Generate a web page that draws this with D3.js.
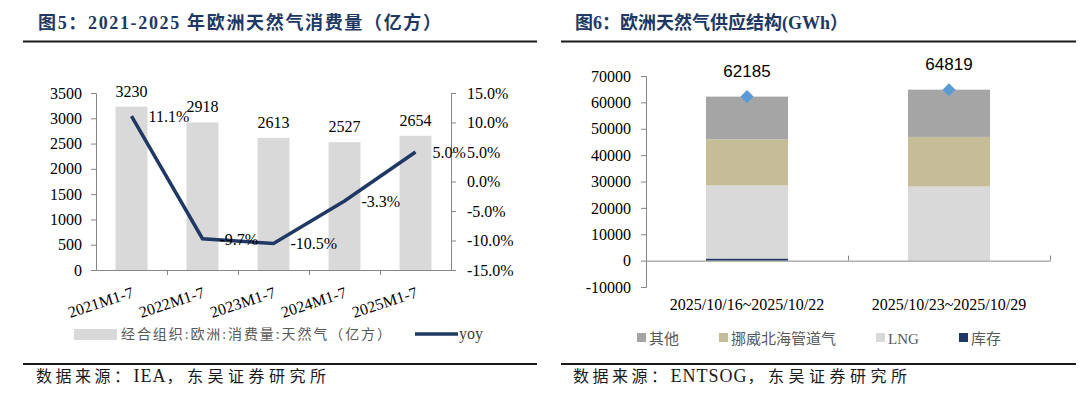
<!DOCTYPE html>
<html>
<head>
<meta charset="utf-8">
<script src="https://cdn.jsdelivr.net/npm/d3@7"></script>
<style>
  body { margin: 0; background: #fff; }
  svg { display: block; }
  .serif { font-family: "Liberation Serif", "Times New Roman", "Noto Sans CJK SC", serif; }
  .axis path, .axis line { stroke: #868686; }
  .axis text { font-family: "Liberation Serif", "Times New Roman", serif; font-size: 16px; fill: #000; }
</style>
</head>
<body>
<div id="chart"></div>
<script>
// left chart data
var years = ["2021M1-7", "2022M1-7", "2023M1-7", "2024M1-7", "2025M1-7"];
var consumption = [3230, 2918, 2613, 2527, 2654];
var yoy = [11.1, -9.7, -10.5, -3.3, 5.0];
var leftTicks = [0, 500, 1000, 1500, 2000, 2500, 3000, 3500];
var rightTicks = [-15, -10, -5, 0, 5, 10, 15];
// right chart data
var weeks = ["2025/10/16~2025/10/22", "2025/10/23~2025/10/29"];
var storage = [800, 0];
var lng = [27700, 28100];
var norway = [17500, 18800];
var other = [16185, 17919];
var totals = [62185, 64819];
var supplyTicks = [-10000, 0, 10000, 20000, 30000, 40000, 50000, 60000, 70000];
var seriesNames = ["其他", "挪威北海管道气", "LNG", "库存"];

var navy = "#203864";
// plain hyphen instead of the unicode minus d3 uses
var pct = d => d3.format(".1f")(d).replace("\u2212", "-") + "%";
var num = d => String(d);

var svg = d3.select("#chart").append("svg")
    .attr("width", 1080)
    .attr("height", 396);

// titles and rules
function header(x, text, len, rx1, rx2) {
    svg.append("text")
        .attr("class", "serif")
        .attr("x", x).attr("y", 29)
        .attr("font-size", 18).attr("font-weight", "bold")
        .attr("fill", navy)
        .attr("textLength", len).attr("lengthAdjust", "spacing")
        .text(text);
    svg.append("line").attr("x1", rx1).attr("x2", rx2).attr("y1", 41.5).attr("y2", 41.5)
        .attr("stroke", "#1a1a1a").attr("stroke-width", 2);
    svg.append("line").attr("x1", rx1).attr("x2", rx2).attr("y1", 364).attr("y2", 364)
        .attr("stroke", "#1a1a1a").attr("stroke-width", 2);
}
header(38, "图5：2021-2025 年欧洲天然气消费量（亿方）", 403, 23, 537);
header(575, "图6：欧洲天然气供应结构(GWh）", 273, 561, 1076);

function source(x, latin) {
    var t = svg.append("text").attr("class", "serif")
        .attr("x", x).attr("y", 382).attr("font-size", 16).attr("fill", "#1a1a1a");
    t.append("tspan").attr("letter-spacing", 3.5).text("数据来源：");
    t.append("tspan").attr("font-size", 18).attr("letter-spacing", 1).text(latin);
    t.append("tspan").attr("letter-spacing", 4.5).text("，东吴证券研究所");
}
source(36, "IEA");
source(573, "ENTSOG");

// ---------- left chart ----------
var x = d3.scaleBand()
    .domain(years)
    .range([96, 451])
    .paddingInner(0.55)
    .paddingOuter(0.275);
var xEdge = d3.scaleLinear().domain([0, years.length]).range([96, 451]);
var yL = d3.scaleLinear().domain([0, 3500]).range([270, 93]);
var yR = d3.scaleLinear().domain([-15, 15]).range([270, 93]);

var left = svg.append("g");

left.selectAll("rect.bar")
    .data(consumption)
    .enter().append("rect")
    .attr("class", "bar")
    .attr("x", (d, i) => x(years[i]))
    .attr("y", d => yL(d))
    .attr("width", x.bandwidth())
    .attr("height", d => yL(0) - yL(d))
    .attr("fill", "#d9d9d9");

left.append("g").attr("class", "axis")
    .attr("transform", "translate(96,0)")
    .call(d3.axisLeft(yL).tickValues(leftTicks).tickSize(5).tickPadding(9).tickFormat(num));
left.append("g").attr("class", "axis")
    .attr("transform", "translate(451,0)")
    .call(d3.axisRight(yR).tickValues(rightTicks).tickSize(5).tickPadding(11).tickFormat(pct));

// x axis: boundary ticks + rotated labels
left.append("g").attr("class", "axis")
    .attr("transform", "translate(0,270)")
    .call(d3.axisBottom(xEdge).tickValues([1, 2, 3, 4]).tickSize(5).tickSizeOuter(0).tickFormat(""));
var xAxis = left.append("g").attr("class", "axis")
    .attr("transform", "translate(0,270)")
    .call(d3.axisBottom(x).tickSize(0).tickSizeOuter(0));
xAxis.select(".domain").remove();
xAxis.selectAll("text")
    .attr("x", 0).attr("y", 0).attr("dy", 0)
    .attr("text-anchor", "end")
    .attr("transform", "translate(3,27) rotate(-18)");

left.selectAll("text.val")
    .data(consumption)
    .enter().append("text")
    .attr("class", "serif")
    .attr("x", (d, i) => x(years[i]) + x.bandwidth() / 2)
    .attr("y", d => yL(d) - 10)
    .attr("text-anchor", "middle")
    .attr("font-size", 16)
    .text(d => d);

var line = d3.line()
    .x((d, i) => x(years[i]) + x.bandwidth() / 2)
    .y(d => yR(d));
left.append("path")
    .datum(yoy)
    .attr("d", line)
    .attr("fill", "none")
    .attr("stroke", navy)
    .attr("stroke-width", 3.5);

left.selectAll("text.yoy")
    .data(yoy)
    .enter().append("text")
    .attr("class", "serif")
    .attr("x", (d, i) => x(years[i]) + x.bandwidth() / 2 + 17)
    .attr("y", d => yR(d) + 6)
    .attr("font-size", 16)
    .text(pct);

// left legend
left.append("rect").attr("x", 74).attr("y", 329).attr("width", 43).attr("height", 11).attr("fill", "#d9d9d9");
left.append("text").attr("class", "serif")
    .attr("x", 121).attr("y", 339).attr("font-size", 14).attr("fill", "#595959")
    .attr("textLength", 270).attr("lengthAdjust", "spacing")
    .text("经合组织:欧洲:消费量:天然气（亿方）");
left.append("line").attr("x1", 415).attr("x2", 458).attr("y1", 334).attr("y2", 334)
    .attr("stroke", navy).attr("stroke-width", 3.5);
left.append("text").attr("class", "serif")
    .attr("x", 459).attr("y", 339).attr("font-size", 16).attr("fill", "#404040")
    .text("yoy");

// ---------- right chart ----------
var xs = d3.scaleBand()
    .domain(weeks)
    .range([646, 1050])
    .paddingInner(0.594)
    .paddingOuter(0.297);
var ys = d3.scaleLinear().domain([-10000, 70000]).range([287, 76]);

var rows = weeks.map((w, i) => ({
    week: w,
    "库存": storage[i],
    "LNG": lng[i],
    "挪威北海管道气": norway[i],
    "其他": other[i]
}));
var keys = ["库存", "LNG", "挪威北海管道气", "其他"];
var colors = { "其他": "#a5a5a5", "挪威北海管道气": "#c4bd97", "LNG": "#d9d9d9", "库存": "#1f3864" };
var stacked = d3.stack().keys(keys).offset(d3.stackOffsetDiverging)(rows);

var right = svg.append("g");
right.selectAll("g.layer")
    .data(stacked)
    .enter().append("g")
    .attr("fill", d => colors[d.key])
    .selectAll("rect")
    .data(d => d)
    .enter().append("rect")
    .attr("x", d => xs(d.data.week))
    .attr("y", d => ys(d[1]))
    .attr("width", xs.bandwidth())
    .attr("height", d => Math.abs(ys(d[0]) - ys(d[1])));

right.append("g").attr("class", "axis")
    .attr("transform", "translate(646,0)")
    .call(d3.axisLeft(ys).tickValues(supplyTicks).tickSize(5).tickPadding(10).tickFormat(num));

var xsEdge = d3.scaleLinear().domain([0, weeks.length]).range([646, 1050]);
right.append("g").attr("class", "axis")
    .attr("transform", "translate(0," + ys(0) + ")")
    .call(d3.axisTop(xsEdge).tickValues([1, 2]).tickSize(5).tickSizeOuter(0).tickFormat(""));

right.append("g").attr("class", "axis")
    .attr("transform", "translate(0,294)")
    .call(d3.axisBottom(xs).tickSize(0).tickSizeOuter(0).tickPadding(0))
    .call(g => g.select(".domain").remove())
    .selectAll("text").attr("dy", "1em");

right.selectAll("path.total")
    .data(totals)
    .enter().append("path")
    .attr("d", d3.symbol(d3.symbolSquare, 85))
    .attr("transform", (d, i) => "translate(" + (xs(weeks[i]) + xs.bandwidth() / 2) + "," + ys(d) + ") rotate(45)")
    .attr("fill", "#5b9bd5");

right.selectAll("text.total")
    .data(totals)
    .enter().append("text")
    .attr("x", (d, i) => xs(weeks[i]) + xs.bandwidth() / 2)
    .attr("y", d => ys(d) - 20)
    .attr("text-anchor", "middle")
    .attr("font-family", "Liberation Sans, Arial, sans-serif")
    .attr("font-size", 17)
    .text(d => d);

// right legend
var legendX = [637, 719, 876, 959];
var legend = right.selectAll("g.leg")
    .data(seriesNames)
    .enter().append("g")
    .attr("transform", (d, i) => "translate(" + legendX[i] + ",333)");
legend.append("rect").attr("width", 9).attr("height", 9).attr("fill", d => colors[d]);
legend.append("text").attr("class", "serif")
    .attr("x", 12).attr("y", 10.5)
    .attr("font-size", 15).attr("fill", "#595959")
    .text(d => d);
</script>
</body>
</html>
